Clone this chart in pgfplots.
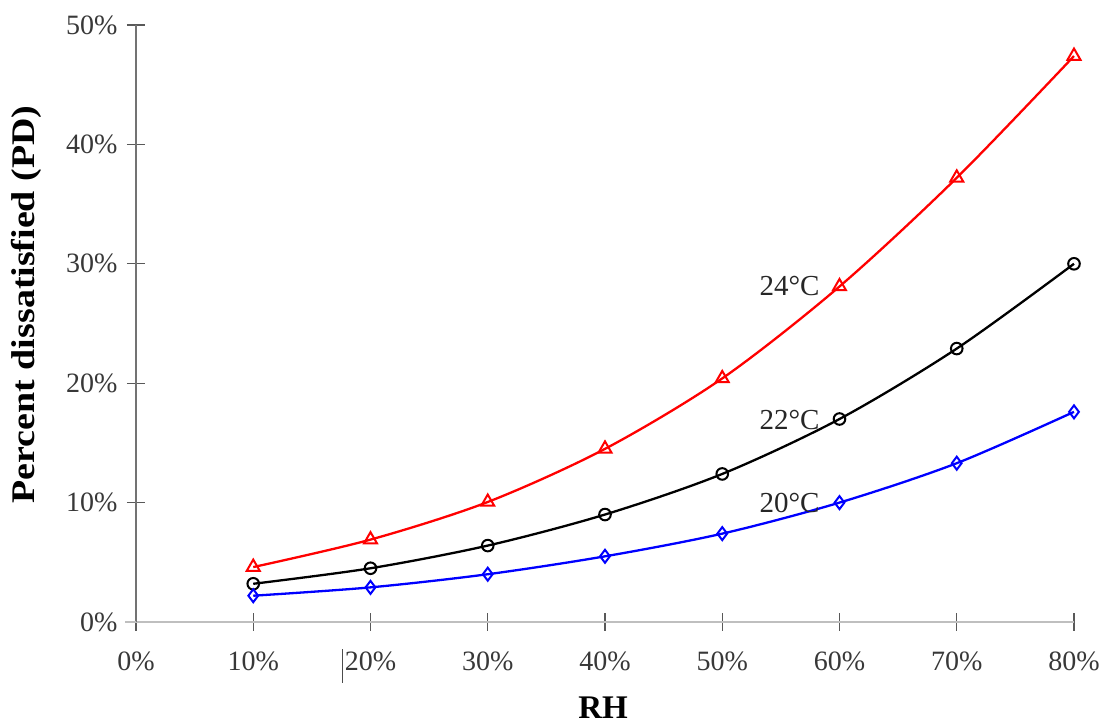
\documentclass[border=0pt]{standalone}
\usepackage{pgfplots}
\pgfplotsset{compat=1.18}
\usepackage{fontspec}
\setmainfont{Liberation Serif}
\begin{document}
\begin{tikzpicture}
\begin{axis}[
 scale only axis, width=938pt, height=597pt,
 xmin=0, xmax=80, ymin=0, ymax=50,
 axis lines*=left,
 x axis line style={draw=black!25, line width=1.3pt},
 y axis line style={draw=black!55, line width=1.3pt},
 xtick={0,10,...,80}, ytick={0,10,...,50},
 xticklabels={0\%,10\%,20\%,30\%,40\%,50\%,60\%,70\%,80\%},
 yticklabels={0\%,10\%,20\%,30\%,40\%,50\%},
 tick align=center, major tick length=18pt,
 tick style={draw=black!65, line width=1.2pt},
 ticklabel style={font=\fontsize{28}{33}\selectfont, text=black!78},
 xticklabel style={yshift=-17pt},
 yticklabel style={xshift=-6pt},
 xlabel={RH}, ylabel={Percent dissatisfied (PD)},
 xlabel style={font=\fontsize{33}{38}\selectfont\bfseries, at={(axis description cs:0.498,0)}, anchor=center, yshift=-86pt},
 ylabel style={font=\fontsize{33}{40}\selectfont\bfseries, at={(axis description cs:-0.117,0.532)}, anchor=center, xscale=1.15},
 clip=false,
 every axis plot/.append style={smooth, line width=2.3pt},
]
\addplot[red, mark=triangle, mark size=7.5pt, mark options={line width=2pt}] coordinates {
 (10,4.6) (20,6.9) (30,10.05) (40,14.5) (50,20.4) (60,28.1) (70,37.2) (80,47.4)};
\addplot[black, mark=o, mark size=5.8pt, mark options={line width=2pt}] coordinates {
 (10,3.2) (20,4.5) (30,6.4) (40,9.0) (50,12.4) (60,17.0) (70,22.9) (80,30.0)};
\addplot[blue, mark=diamond, mark size=6.5pt, mark options={line width=2pt}] coordinates {
 (10,2.2) (20,2.9) (30,4.0) (40,5.5) (50,7.4) (60,10.0) (70,13.3) (80,17.6)};
\node[anchor=east, font=\fontsize{29}{34}\selectfont, text=black!85] at (axis cs:58.6,28.1) {24°C};
\node[anchor=east, font=\fontsize{29}{34}\selectfont, text=black!85] at (axis cs:58.6,16.9) {22°C};
\node[anchor=east, font=\fontsize{29}{34}\selectfont, text=black!85] at (axis cs:58.6,10.0) {20°C};
\draw[black!25, line width=1.3pt] (axis cs:-0.9,0) -- (axis cs:0,0);
\draw[black!70, line width=1pt] (axis cs:17.65,-2.3) -- (axis cs:17.65,-5.1);
\coordinate (sw) at (rel axis cs:0,0);
\coordinate (ne) at (rel axis cs:1,1);
\end{axis}
\pgfresetboundingbox
\path ([shift={(-136pt,-106pt)}]sw) rectangle ([shift={(32pt,25pt)}]ne);
\end{tikzpicture}
\end{document}
